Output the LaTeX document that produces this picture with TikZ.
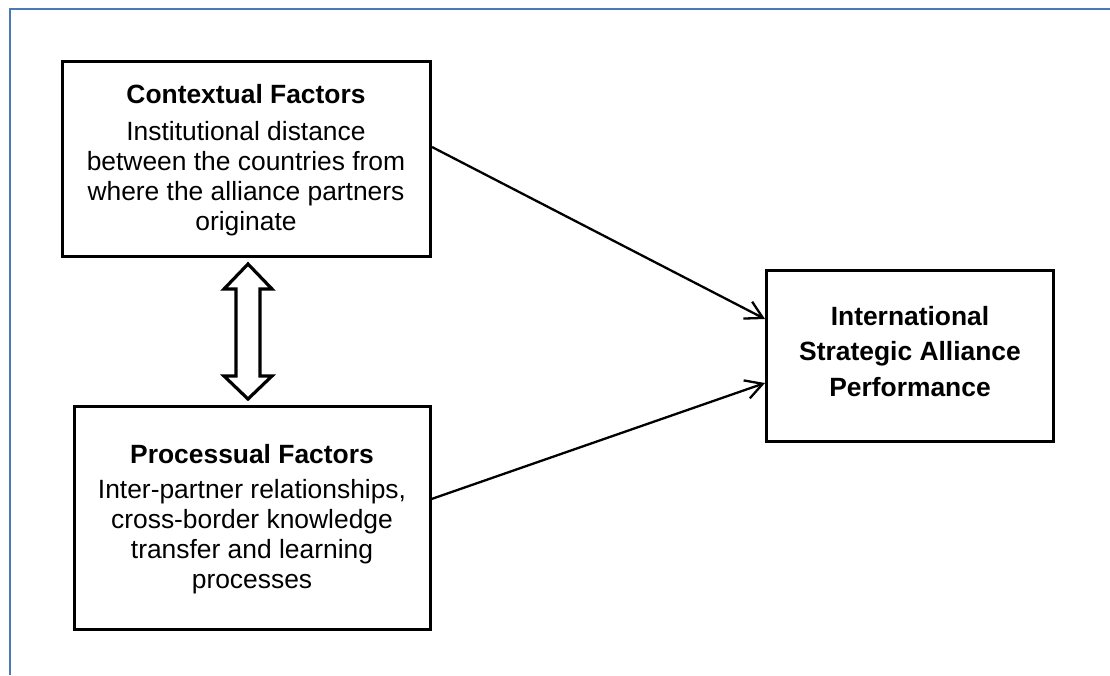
\documentclass[tikz,border=0pt]{standalone}
\usepackage{fontspec}
\setmainfont{Liberation Sans}
\usetikzlibrary{arrows.meta}
\definecolor{frameblue}{RGB}{74,122,182}
\begin{document}
\begin{tikzpicture}[x=1pt,y=-1pt,
  box/.style={draw, rectangle, line width=3pt, inner sep=0pt},
  lbl/.style={align=center, inner sep=0pt, anchor=base,
    font=\fontsize{26.4}{30}\selectfont},
  conn/.style={line width=2.3pt, -{Straight Barb[length=17pt,width=19pt]}},
  twoway/.style={draw, line width=3.2pt, line join=miter, fill=white}]
  \useasboundingbox (0,0) rectangle (1110,675);

  % outer frame (top and left edges)
  \draw[frameblue, line width=2.8pt] (10,675) -- (10,9) -- (1110,9);

  % boxes
  \node[box, minimum width=368pt, minimum height=194.5pt] (b1) at (246.5,158.75) {};
  \node[box, minimum width=355.5pt, minimum height=223pt] (b2) at (252.25,517.5) {};
  \node[box, minimum width=286.5pt, minimum height=171pt] (b3) at (909.75,355.5) {};

  % box texts (anchored at the baseline of the last line)
  \node[lbl] (t1) at (246,230) {\textbf{Contextual Factors}\\[7pt]
    Institutional distance\\between the countries from\\
    where the alliance partners\\originate};
  \node[lbl] (t2) at (252,588) {\textbf{Processual Factors}\\[5pt]
    Inter-partner relationships,\\cross-border knowledge\\
    transfer and learning\\processes};
  \node[lbl, font=\fontsize{26.4}{35.5}\selectfont\bfseries] (t3) at (910,396)
    {International\\Strategic Alliance\\Performance};

  % two-way block arrow between the factor boxes
  \coordinate (m) at (248,264);
  \draw[twoway] (m) -- ++(24,25) -- ++(-12,0) -- ++(0,87) -- ++(12,0)
    -- ++(-24,23) -- ++(-24,-23) -- ++(12,0) -- ++(0,-87) -- ++(-12,0) -- cycle;

  % influence arrows
  \draw[conn] (b1.east |- 0,147) -- (b3.west |- 0,319);
  \draw[conn] (b2.east |- 0,499) -- (b3.west |- 0,383);
\end{tikzpicture}
\end{document}
